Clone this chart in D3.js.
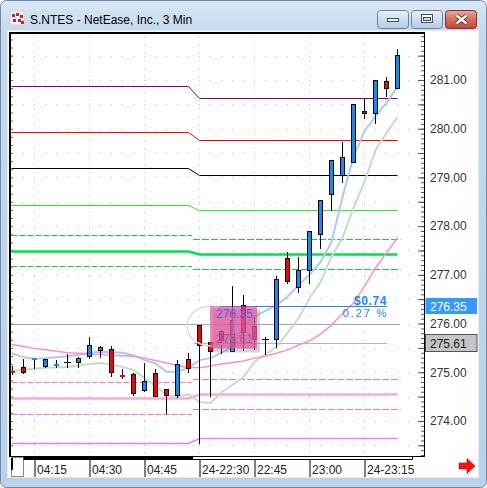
<!DOCTYPE html>
<html><head><meta charset="utf-8">
<script src="https://cdn.jsdelivr.net/npm/d3@7"></script>
<style>html,body{margin:0;padding:0;background:#fff;overflow:hidden}svg{display:block;font-family:"Liberation Sans",Arial,sans-serif}</style>
</head><body><svg id="c" width="487" height="488"></svg>
<script>
// ---------- data ----------
const times = ["04:09","04:12","04:15","04:18","04:21","04:24","04:27","04:30","04:33","04:36","04:39","04:42","04:45","04:48","04:51","04:54","04:57",
  "22:30","22:33","22:36","22:39","22:42","22:45","22:48","22:51","22:54","22:57","23:00","23:03","23:06","23:09","23:12","23:15","23:18","23:21","23:24"];
const open  = [275.02,275.10,275.26,275.12,275.14,275.22,275.22,275.34,275.46,275.48,274.94,274.96,274.63,274.98,274.65,274.53,275.27,
  275.98,275.62,275.84,275.43,276.38,275.94,275.68,275.68,277.34,276.76,277.09,277.83,278.65,279.05,279.31,280.37,280.32,280.97,280.83];
const high  = [275.13,275.27,275.29,275.28,275.25,275.37,275.32,275.73,275.54,275.54,275.06,274.99,275.18,275.06,274.65,275.25,275.40,
  275.98,275.62,275.87,276.77,276.58,276.14,275.73,276.98,277.46,277.36,277.89,278.53,279.35,279.73,280.50,280.64,280.99,281.06,281.63];
const low   = [274.97,274.98,275.08,275.11,275.10,275.11,275.10,275.29,275.31,274.93,274.88,274.53,274.62,274.52,274.17,274.50,275.01,
  273.55,274.52,275.39,275.43,275.46,275.47,275.37,275.52,276.83,276.65,276.83,277.55,278.33,278.91,279.31,280.21,280.12,280.68,280.83];
const close = [274.98,275.01,275.29,275.27,275.17,275.22,275.29,275.56,275.51,275.01,274.91,274.57,274.83,274.52,274.53,275.16,275.08,
  275.55,275.43,275.66,276.07,275.82,275.68,275.68,276.91,276.87,277.10,277.89,278.53,279.35,279.41,280.50,280.32,280.99,280.83,281.51];
const maBlue  = [275.39,275.31,275.27,275.29,275.31,275.33,275.36,275.40,275.42,275.41,275.40,275.35,275.25,275.18,275.01,275.01,275.09,
  275.25,275.29,275.40,275.52,275.93,276.15,276.26,276.38,276.55,276.79,277.00,277.26,277.67,278.60,279.42,279.95,280.26,280.53,280.86];
const maGreen = [275.03,275.05,275.07,275.09,275.10,275.11,275.14,275.17,275.19,275.16,275.11,275.05,274.88,274.72,274.53,274.49,274.55,
  274.39,274.37,274.59,274.74,274.90,275.21,275.37,275.52,275.81,276.11,276.52,276.85,277.37,277.76,278.37,278.91,279.56,279.91,280.24];
const maPink  = [275.57,275.53,275.49,275.46,275.43,275.40,275.39,275.37,275.37,275.35,275.34,275.33,275.29,275.24,275.19,275.14,275.10,
  275.09,275.13,275.17,275.20,275.23,275.29,275.33,275.39,275.46,275.56,275.64,275.79,275.97,276.20,276.42,276.77,277.14,277.45,277.76];
const pivotPrev = [280.88,279.93,279.19,278.43,277.82,277.49,277.18,274.79,274.48,274.15,273.54];
const pivotCur  = [280.64,279.77,279.04,278.33,277.73,277.43,277.11,274.86,274.56,274.24,273.64];
const priceTicks = [274,275,276,277,278,279,280,281];
const timeTicks = ["04:15","04:30","04:45","22:30","22:45","23:00","23:15"];
const timeTickLabels = ["04:15","04:30","04:45","24-22:30","22:45","23:00","24-23:15"];
const lastPrice = 276.35, refPrice = 275.61, prevClose = 276.00;
const changeLabel = "$0.74", changePctLabel = "0.27 %";
const title = "S.NTES - NetEase, Inc., 3 Min";

// ---------- styles ----------
const pivotStyle = [
  {c:"#800080",w:1},{c:"#ff0000",w:1},{c:"#000000",w:1},{c:"#22ee22",w:1},
  {c:"#11d040",w:1,d:1},{c:"#00e24a",w:2.5},{c:"#11d040",w:1,d:1},
  {c:"#ff70c0",w:1,d:1},{c:"#ffa8d6",w:2.5},{c:"#ff70c0",w:1,d:1},{c:"#f07cf0",w:1.5}];
const upCol="#1e88f0", dnCol="#ff0000";

const svg = d3.select("#c");
const defs = svg.append("defs");
function grad(id, stops){const g=defs.append("linearGradient").attr("id",id).attr("x1",0).attr("y1",0).attr("x2",0).attr("y2",1);
  stops.forEach(s=>g.append("stop").attr("offset",s[0]).attr("stop-color",s[1]));}
grad("frame",[[0,"#dbe7f4"],[0.06,"#c6d9ee"],[1,"#b9d1ea"]]);
grad("btn",[[0,"#e8f0f8"],[0.5,"#cddcee"],[1,"#b6cbe4"]]);
grad("cls",[[0,"#e9a79a"],[0.5,"#d2705f"],[1,"#c0483a"]]);

// ---------- window chrome ----------
svg.append("rect").attr("x",0.5).attr("y",0.5).attr("width",486).attr("height",487).attr("rx",6)
  .attr("fill","url(#frame)").attr("stroke","#6f89a8");
// icon
const ic = svg.append("g").attr("transform","translate(10,11)");
ic.append("rect").attr("width",14).attr("height",14).attr("fill","#f4f4f4").attr("stroke","#d0d0d0");
[[2,3],[6,2],[10,4],[3,8],[8,8],[11,10]].forEach(p=>ic.append("rect").attr("x",p[0]).attr("y",p[1]).attr("width",3).attr("height",3).attr("fill","#d0202a"));
svg.append("text").attr("x",30).attr("y",24).attr("font-size",12).attr("fill","#000").text(title);
// buttons
[[377.5,"btn"],[411.5,"btn"],[445.5,"cls"]].forEach(b=>{
  svg.append("rect").attr("x",b[0]).attr("y",10.5).attr("width",31).attr("height",18).attr("rx",3)
    .attr("fill","url(#"+b[1]+")").attr("stroke",b[1]==="cls"?"#8a3028":"#6c84a2");
});
svg.append("rect").attr("x",387.5).attr("y",18.5).attr("width",11).attr("height",3).attr("fill","#fff").attr("stroke","#3c4e66");
svg.append("rect").attr("x",421.5).attr("y",14.5).attr("width",11).attr("height",8).attr("fill","#fff").attr("stroke","#3c4e66");
svg.append("rect").attr("x",423.5).attr("y",17.5).attr("width",7).attr("height",3).attr("fill","#cfdcea").attr("stroke","#3c4e66");
svg.append("path").attr("d","M456.5,15.5 L466.5,23.5 M466.5,15.5 L456.5,23.5").attr("stroke","#4a1510").attr("stroke-width",4);
svg.append("path").attr("d","M456.5,15.5 L466.5,23.5 M466.5,15.5 L456.5,23.5").attr("stroke","#fff").attr("stroke-width",2.4);
// client area
svg.append("rect").attr("x",7.5).attr("y",30.5).attr("width",471).attr("height",447).attr("fill","#fff").attr("stroke","#e2ebf5");

// ---------- scales ----------
const x = d3.scalePoint().domain(times).range([12.5,397.5]);
const y = d3.scaleLinear().domain([273.26,281.965]).range([457,33]);
const X0 = 10.5, X1 = 424.5, Y0 = 34, Y1 = 456.5;
const py = v => Math.round(y(v)) + 0.5;
const plot = svg.append("g");

// grid dots
priceTicks.concat(d3.range(273.5,282,1)).forEach(v=>{
  plot.append("line").attr("x1",12).attr("x2",X1-1).attr("y1",py(v)).attr("y2",py(v))
    .attr("stroke","#c4c4c4").attr("stroke-dasharray","1,10");
});
timeTicks.forEach(t=>{
  plot.append("line").attr("x1",x(t)).attr("x2",x(t)).attr("y1",Y0+2).attr("y2",Y1)
    .attr("stroke","#c4c4c4").attr("stroke-dasharray","1,7");
});

// pivot lines
const i16 = times[16], i17 = times[17], iEnd = times[times.length-1];
pivotPrev.forEach((pv,k)=>{
  const st = pivotStyle[k], cv = pivotCur[k];
  if (st.d) {
    plot.append("line").attr("x1",X0+1).attr("x2",x(i16)+3.5).attr("y1",py(pv)).attr("y2",py(pv))
      .attr("stroke",st.c).attr("stroke-width",st.w).attr("stroke-dasharray","6,2");
    plot.append("line").attr("x1",x(i16)+4.5).attr("x2",x(iEnd)+3).attr("y1",py(cv)).attr("y2",py(cv))
      .attr("stroke",st.c).attr("stroke-width",st.w).attr("stroke-dasharray","7,2");
  } else {
    const pts = [[X0+1,pv],[x(i16),pv],[x(i17),cv],[x(iEnd),cv]];
    plot.append("path").attr("d",d3.line().x(d=>d[0]).y(d=>py(d[1]))(pts))
      .attr("fill","none").attr("stroke",st.c).attr("stroke-width",st.w);
  }
});

// previous close / reference lines
plot.append("line").attr("x1",X0+1).attr("x2",400).attr("y1",py(prevClose)).attr("y2",py(prevClose)).attr("stroke","#a8a8a8");
plot.append("line").attr("x1",x(i17)-6).attr("x2",387).attr("y1",py(refPrice)).attr("y2",py(refPrice)).attr("stroke","#b4b4b4");

// moving averages
const maLine = arr => d3.line().x((d,i)=> i===0 ? X0+1 : x(times[i])).y(d=>y(d)).curve(d3.curveLinear)(arr);
plot.append("path").attr("d",maLine(maGreen)).attr("fill","none").attr("stroke","#c2dfc2").attr("stroke-width",2);
plot.append("path").attr("d",maLine(maBlue)).attr("fill","none").attr("stroke","#a9caf2").attr("stroke-width",2);
plot.append("path").attr("d",maLine(maPink)).attr("fill","none").attr("stroke","#ff8ccc").attr("stroke-width",1.5);

// last price line
plot.append("line").attr("x1",210).attr("x2",387).attr("y1",py(lastPrice)).attr("y2",py(lastPrice)).attr("stroke","#1e88f0");

// candles
times.forEach((t,i)=>{
  const cx = x(t), o = open[i], c = close[i];
  plot.append("line").attr("x1",cx).attr("x2",cx).attr("y1",py(high[i])-0.5).attr("y2",py(low[i])+0.5).attr("stroke","#000");
  const diff = Math.abs(c-o), col = c>=o ? upCol : dnCol;
  if (diff === 0) {
    plot.append("line").attr("x1",cx-3.5).attr("x2",cx+3.5).attr("y1",py(o)).attr("y2",py(o)).attr("stroke","#000");
  } else if (diff < 0.045) {
    plot.append("rect").attr("x",cx-2.5).attr("width",5).attr("y",Math.round(y(Math.max(o,c)))).attr("height",2).attr("fill",col);
  } else {
    const yt = py(Math.max(o,c)), yb = py(Math.min(o,c));
    plot.append("rect").attr("x",cx-2).attr("width",4).attr("y",yt).attr("height",yb-yt).attr("fill",col).attr("stroke","#000");
  }
});

// change labels
plot.append("text").attr("x",387).attr("y",py(lastPrice)-2).attr("text-anchor","end").attr("font-size",12)
  .attr("font-weight","bold").attr("letter-spacing",0.6).attr("fill","#1e88f0").text(changeLabel);
plot.append("text").attr("x",388).attr("y",py(lastPrice)+10).attr("text-anchor","end").attr("font-size",11.5)
  .attr("letter-spacing",1.6).attr("fill","#1e88f0").text(changePctLabel);

// cursor magnifier + tooltip box
plot.append("ellipse").attr("cx",211).attr("cy",326).attr("rx",24).attr("ry",20).attr("fill","none").attr("stroke","#dcdcdc").attr("stroke-width",1.5);
plot.append("rect").attr("x",213).attr("y",py(lastPrice)+3).attr("width",47).attr("height",43).attr("fill","#808080").attr("opacity",0.35);
plot.append("rect").attr("x",210).attr("y",py(lastPrice)).attr("width",47).attr("height",42).attr("fill","#e8509f").attr("opacity",0.7);
plot.append("text").attr("x",216).attr("y",py(lastPrice)+11).attr("font-size",12).attr("fill","#5a5ad6").text(d3.format(".2f")(lastPrice));
plot.append("text").attr("x",216).attr("y",py(refPrice)-1).attr("font-size",12).attr("fill","#7a4a8c").attr("opacity",0.65).text(d3.format(".2f")(refPrice));

// plot frame
svg.append("line").attr("x1",10).attr("x2",10).attr("y1",32).attr("y2",457).attr("stroke","#000").attr("stroke-width",2);
svg.append("line").attr("x1",9).attr("x2",425).attr("y1",33).attr("y2",33).attr("stroke","#000").attr("stroke-width",2);
svg.append("line").attr("x1",424.5).attr("x2",424.5).attr("y1",33).attr("y2",457).attr("stroke","#000");
svg.append("line").attr("x1",9).attr("x2",425).attr("y1",456.5).attr("y2",456.5).attr("stroke","#000");

// right axis minor ticks
const minor = svg.append("g").attr("transform","translate(424,0)")
  .call(d3.axisLeft(y).tickValues(d3.range(273.3,281.95,0.1)).tickSize(3).tickFormat(""));
minor.select(".domain").remove();
minor.selectAll("line").attr("stroke","#555");
const major = svg.append("g").attr("transform","translate(424,0)")
  .call(d3.axisLeft(y).tickValues(d3.range(273.5,282,0.5)).tickSize(6).tickFormat(""));
major.select(".domain").remove();
major.selectAll("line").attr("stroke","#555");
// left edge minor ticks
const leftT = svg.append("g").attr("transform","translate(11,0)")
  .call(d3.axisRight(y).tickValues(d3.range(273.5,281.95,1/6)).tickSize(2).tickFormat(""));
leftT.select(".domain").remove();
leftT.selectAll("line").attr("stroke","#666");

// right price axis
const ra = svg.append("g").attr("transform","translate(424,0)")
  .call(d3.axisRight(y).tickValues(priceTicks).tickSize(0).tickPadding(6).tickFormat(d3.format(".2f")));
ra.select(".domain").remove();
ra.selectAll("text").attr("font-size",12).attr("fill","#333").attr("font-family","Liberation Sans, Arial, sans-serif");
// price tags
svg.append("rect").attr("x",425.5).attr("y",py(lastPrice)-8.5).attr("width",51.5).attr("height",16).attr("fill","#3399ff");
svg.append("text").attr("x",430).attr("y",py(lastPrice)).attr("dy","0.35em").attr("font-size",12).attr("fill","#fff").text(d3.format(".2f")(lastPrice));
svg.append("rect").attr("x",425.5).attr("y",py(refPrice)-9).attr("width",51.5).attr("height",17).attr("fill","#c4c4c4").attr("stroke","#555");
svg.append("text").attr("x",430).attr("y",py(refPrice)).attr("dy","0.35em").attr("font-size",12).attr("fill","#222").text(d3.format(".2f")(refPrice));

// bottom scroll / time axis
svg.append("rect").attr("x",11.5).attr("y",457.5).attr("width",12).attr("height",19).attr("fill","#fff").attr("stroke","#888");
svg.append("line").attr("x1",12).attr("x2",12).attr("y1",458).attr("y2",470).attr("stroke","#000").attr("stroke-width",2);
svg.append("rect").attr("x",23.5).attr("y",457).attr("width",169.5).attr("height",3).attr("fill","#000");
svg.append("path").attr("d","M193,459.5 H412.5 V457").attr("fill","none").attr("stroke","#000");
const xa = svg.append("g").attr("transform","translate(0,460)")
  .call(d3.axisBottom(x).tickValues(timeTicks).tickSize(17).tickFormat((d,i)=>timeTickLabels[i]));
xa.select(".domain").remove();
xa.selectAll("line").attr("stroke","#000");
xa.selectAll("text").attr("x",2).attr("y",14).attr("dy",0).style("text-anchor","start")
  .attr("font-size",12).attr("fill","#222").attr("font-family","Liberation Sans, Arial, sans-serif");
// red arrow
svg.append("path").attr("d","M459,463 H467 V458.5 L475,466 L467,473.5 V469 H459 Z").attr("fill","#ff1010").attr("stroke","#c00000").attr("stroke-width",0.6);
</script></body></html>
